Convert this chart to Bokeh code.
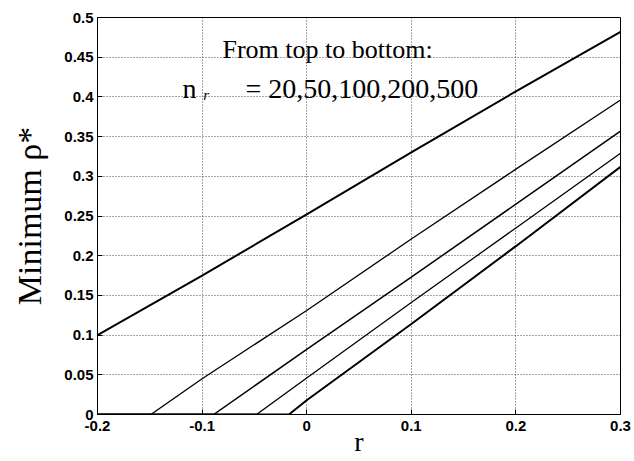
from bokeh.plotting import figure
from bokeh.models import Range1d, FixedTicker, Label
from bokeh.embed import file_html
from bokeh.resources import INLINE

# ---- data ----
r_20 = [-0.2, -0.1, 0.0, 0.1, 0.2, 0.3]
rho_20 = [0.100, 0.175, 0.252, 0.330, 0.407, 0.482]

r_50 = [-0.2, -0.149, -0.1, 0.0, 0.1, 0.2, 0.3]
rho_50 = [0.0, 0.0, 0.045, 0.131, 0.221, 0.309, 0.396]

r_100 = [-0.2, -0.089, 0.0, 0.1, 0.2, 0.3]
rho_100 = [0.0, 0.0, 0.082, 0.173, 0.265, 0.357]

r_200 = [-0.2, -0.048, 0.0, 0.1, 0.2, 0.3]
rho_200 = [0.0, 0.0, 0.046, 0.141, 0.235, 0.329]

r_500 = [-0.2, -0.017, 0.0, 0.1, 0.2, 0.3]
rho_500 = [0.0, 0.0, 0.018, 0.114, 0.212, 0.312]

xticks = [-0.2, -0.1, 0.0, 0.1, 0.2, 0.3]
xtick_labels = ["-0.2", "-0.1", "0", "0.1", "0.2", "0.3"]
yticks = [0.0, 0.05, 0.1, 0.15, 0.2, 0.25, 0.3, 0.35, 0.4, 0.45, 0.5]
ytick_labels = ["0", "0.05", "0.1", "0.15", "0.2", "0.25", "0.3", "0.35", "0.4", "0.45", "0.5"]

SERIF = "Liberation Serif"
SANS = "Liberation Sans"

p = figure(width=634, height=461, output_backend="svg", toolbar_location=None,
           x_range=Range1d(-0.2, 0.3), y_range=Range1d(0, 0.5),
           min_border_left=97, min_border_right=14, min_border_top=17, min_border_bottom=47,
           background_fill_color="white", border_fill_color="white")

p.outline_line_color = "black"
p.outline_line_width = 1

for ax, ticks, labels in ((p.xaxis[0], xticks, xtick_labels), (p.yaxis[0], yticks, ytick_labels)):
    ax.ticker = FixedTicker(ticks=ticks)
    ax.major_label_overrides = {t: l for t, l in zip(ticks, labels)}
    ax.major_tick_in = 5
    ax.major_tick_out = 0
    ax.minor_tick_line_color = None
    ax.axis_line_color = "black"
    ax.major_tick_line_color = "black"
    ax.major_label_text_font = SANS
    ax.major_label_text_font_style = "bold"
    ax.major_label_text_font_size = "15px"
    ax.major_label_text_color = "black"
    ax.axis_label_text_font = SERIF
    ax.axis_label_text_font_style = "normal"
    ax.axis_label_text_color = "black"

p.xaxis.axis_label = "r"
p.xaxis.axis_label_text_font_size = "28px"
p.yaxis.axis_label = "Minimum ρ*"
p.yaxis.axis_label_text_font_size = "34px"
p.xaxis.major_label_standoff = 6
p.yaxis.major_label_standoff = 4
p.xaxis.axis_label_standoff = -8
p.yaxis.axis_label_standoff = 13

for g, ticks in ((p.xgrid[0], xticks), (p.ygrid[0], yticks)):
    g.ticker = FixedTicker(ticks=ticks)
    g.grid_line_color = "black"
    g.grid_line_alpha = 0.7
    g.grid_line_dash = "1 2"
    g.grid_line_width = 1

p.line(r_20, rho_20, line_color="black", line_width=2)
p.line(r_50, rho_50, line_color="black", line_width=1.3)
p.line(r_100, rho_100, line_color="black", line_width=1.5)
p.line(r_200, rho_200, line_color="black", line_width=1.3)
p.line(r_500, rho_500, line_color="black", line_width=2)

p.add_layout(Label(x=-0.0805, y=0.460, text="From top to bottom:", text_font=SERIF,
                   text_font_size="26px", text_color="black", text_align="left",
                   text_baseline="alphabetic"))
p.add_layout(Label(x=-0.1187, y=0.411, text="n", text_font=SERIF,
                   text_font_size="28px", text_color="black", text_align="left",
                   text_baseline="alphabetic"))
p.add_layout(Label(x=-0.0990, y=0.402, text="r", text_font=SERIF, text_font_style="italic",
                   text_font_size="15px", text_color="black", text_align="left",
                   text_baseline="alphabetic"))
p.add_layout(Label(x=-0.0585, y=0.411, text="= 20,50,100,200,500", text_font=SERIF,
                   text_font_size="28px", text_color="black", text_align="left",
                   text_baseline="alphabetic"))

open("out.html", "w").write(file_html(p, INLINE))
